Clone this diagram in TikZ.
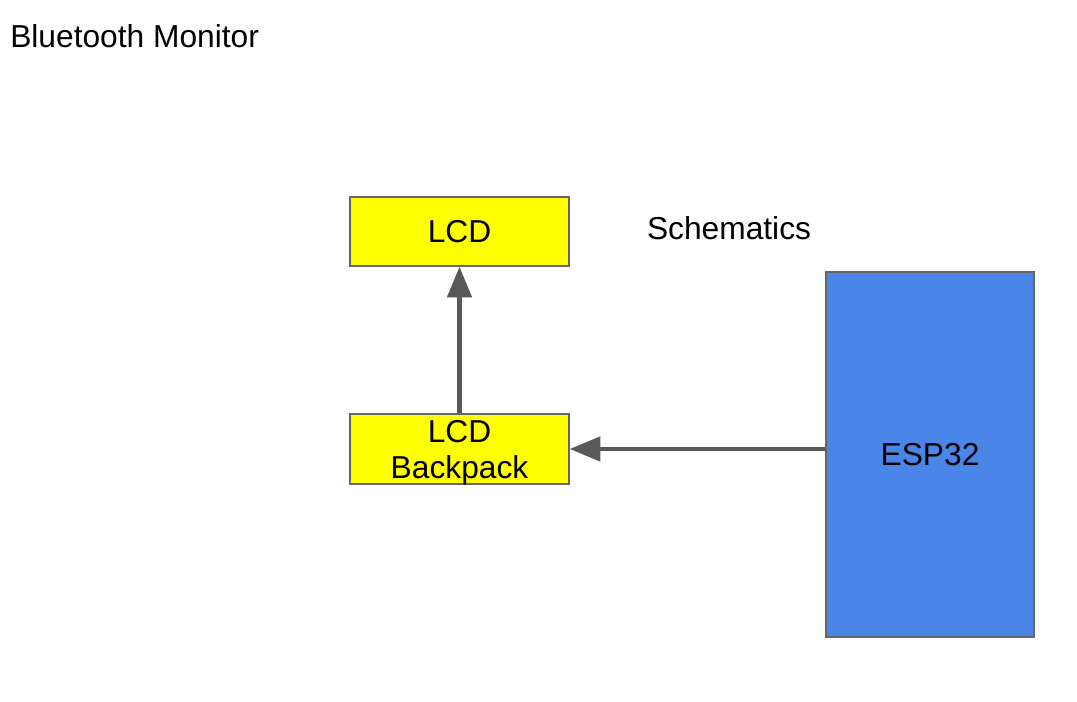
\documentclass[tikz,border=0pt]{standalone}
\usepackage{fontspec}
\setmainfont{Liberation Sans}
\usepackage{tikz}
\usetikzlibrary{arrows.meta}
\definecolor{boxyellow}{HTML}{FFFF00}
\definecolor{espblue}{HTML}{4A86E8}
\definecolor{edgegray}{HTML}{666666}
\definecolor{arrowgray}{HTML}{595959}

\begin{document}
\begin{tikzpicture}[x=0.75pt, y=-0.75pt,
    every node/.style={font=\fontsize{23.8}{27}\selectfont},
    part/.style={draw=edgegray, line width=1pt, align=center, inner sep=0pt},
    link/.style={-{Triangle[length=23pt, width=18pt]}, draw=arrowgray, line width=3.5pt}]

    \useasboundingbox[fill=white] (0, 0) rectangle (1077, 702);

    \node[anchor=west, inner sep=0pt] (title) at (10, 36) {Bluetooth Monitor};

    \node[part, fill=boxyellow, minimum width=164.25pt, minimum height=51.75pt]
      (lcd) at (459.5, 231.5) {LCD};

    \node[part, fill=boxyellow, minimum width=164.25pt, minimum height=52.5pt, text depth=0pt]
      (backpack) at (459.5, 449) {LCD\\Backpack};

    \node[inner sep=0pt] (schematics) at (729, 228) {Schematics};

    \node[part, fill=espblue, minimum width=156pt, minimum height=273.75pt]
      (esp) at (930, 454.5) {ESP32};

    \draw[link] (backpack) -- (lcd);

    \draw[link] (esp.west |- backpack.east) -- (backpack.east);
\end{tikzpicture}
\end{document}
